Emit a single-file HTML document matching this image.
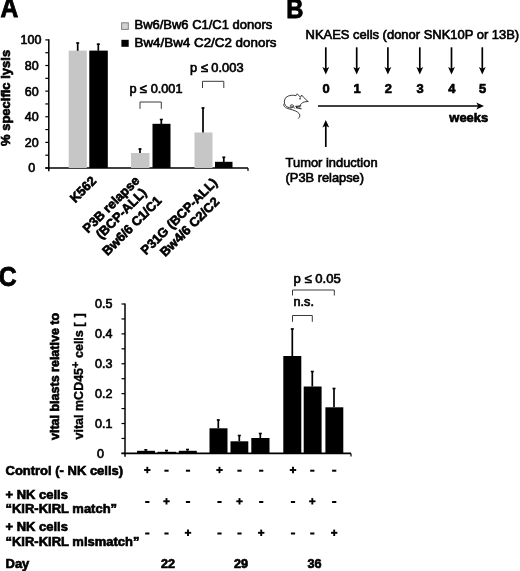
<!DOCTYPE html>
<html><head><meta charset="utf-8"><title>Figure</title>
<style>html,body{margin:0;padding:0;background:#fff}svg{display:block}text{font-family:"Liberation Sans",Arial,sans-serif;fill:#000}</style>
</head><body>
<svg width="520" height="571" viewBox="0 0 520 571">
<rect width="520" height="571" fill="#fff"/>
<text transform="translate(0.6,17.4) scale(0.88,1) rotate(0)" font-size="28" font-weight="bold" stroke="#000" stroke-width="0.9">A</text>
<text transform="translate(286.2,18) scale(0.85,1) rotate(0)" font-size="28" font-weight="bold" stroke="#000" stroke-width="0.9">B</text>
<text transform="translate(-1.2,285.8) scale(0.9,1) rotate(0)" font-size="27.5" font-weight="bold" stroke="#000" stroke-width="0.9">C</text>
<line x1="48.8" y1="39.3" x2="48.8" y2="168.7" stroke="#000" stroke-width="1.5"/>
<line x1="45.3" y1="168" x2="248" y2="168" stroke="#000" stroke-width="1.6"/>
<line x1="48.8" y1="168" x2="48.8" y2="171.3" stroke="#000" stroke-width="1.5"/>
<line x1="248" y1="168" x2="248" y2="171" stroke="#000" stroke-width="1.2"/>
<line x1="45.3" y1="168.0" x2="48.8" y2="168.0" stroke="#000" stroke-width="1.2"/>
<line x1="45.3" y1="155.19" x2="48.8" y2="155.19" stroke="#000" stroke-width="1.2"/>
<line x1="45.3" y1="142.38" x2="48.8" y2="142.38" stroke="#000" stroke-width="1.2"/>
<line x1="45.3" y1="129.57" x2="48.8" y2="129.57" stroke="#000" stroke-width="1.2"/>
<line x1="45.3" y1="116.76" x2="48.8" y2="116.76" stroke="#000" stroke-width="1.2"/>
<line x1="45.3" y1="103.95" x2="48.8" y2="103.95" stroke="#000" stroke-width="1.2"/>
<line x1="45.3" y1="91.14000000000001" x2="48.8" y2="91.14000000000001" stroke="#000" stroke-width="1.2"/>
<line x1="45.3" y1="78.33000000000001" x2="48.8" y2="78.33000000000001" stroke="#000" stroke-width="1.2"/>
<line x1="45.3" y1="65.52000000000001" x2="48.8" y2="65.52000000000001" stroke="#000" stroke-width="1.2"/>
<line x1="45.3" y1="52.71000000000001" x2="48.8" y2="52.71000000000001" stroke="#000" stroke-width="1.2"/>
<line x1="45.3" y1="39.900000000000006" x2="48.8" y2="39.900000000000006" stroke="#000" stroke-width="1.2"/>
<text transform="translate(31.8,172.4) scale(1.0,1) rotate(0)" font-size="12.5" text-anchor="middle" stroke="#000" stroke-width="0.65">0</text>
<text transform="translate(31.8,146.78) scale(1.0,1) rotate(0)" font-size="12.5" text-anchor="middle" stroke="#000" stroke-width="0.65">20</text>
<text transform="translate(31.8,121.16) scale(1.0,1) rotate(0)" font-size="12.5" text-anchor="middle" stroke="#000" stroke-width="0.65">40</text>
<text transform="translate(31.8,95.54) scale(1.0,1) rotate(0)" font-size="12.5" text-anchor="middle" stroke="#000" stroke-width="0.65">60</text>
<text transform="translate(31.8,69.92) scale(1.0,1) rotate(0)" font-size="12.5" text-anchor="middle" stroke="#000" stroke-width="0.65">80</text>
<text transform="translate(31.0,44.3) scale(1.0,1) rotate(0)" font-size="12.5" text-anchor="middle" stroke="#000" stroke-width="0.65">100</text>
<rect x="68.7" y="50.6" width="18.1" height="117.4" fill="#c6c6c6"/>
<line x1="77.7" y1="42.5" x2="77.7" y2="50.8" stroke="#000" stroke-width="1.7"/>
<line x1="76.2" y1="43.0" x2="79.2" y2="43.0" stroke="#000" stroke-width="1.6"/>
<rect x="89.3" y="50.6" width="18.5" height="117.4" fill="#000"/>
<line x1="98.3" y1="43.7" x2="98.3" y2="50.8" stroke="#000" stroke-width="1.7"/>
<line x1="96.8" y1="44.2" x2="99.8" y2="44.2" stroke="#000" stroke-width="1.6"/>
<rect x="131" y="153" width="18.5" height="15" fill="#c6c6c6"/>
<line x1="140" y1="148.5" x2="140" y2="153" stroke="#000" stroke-width="1.7"/>
<line x1="138.5" y1="149.0" x2="141.5" y2="149.0" stroke="#000" stroke-width="1.6"/>
<rect x="152.5" y="123.8" width="18.0" height="44.2" fill="#000"/>
<line x1="161.3" y1="119" x2="161.3" y2="124" stroke="#000" stroke-width="1.7"/>
<line x1="159.8" y1="119.5" x2="162.8" y2="119.5" stroke="#000" stroke-width="1.6"/>
<rect x="194.5" y="132.5" width="18.0" height="35.5" fill="#c6c6c6"/>
<line x1="203" y1="107.5" x2="203" y2="132.5" stroke="#000" stroke-width="1.7"/>
<line x1="201.5" y1="108.0" x2="204.5" y2="108.0" stroke="#000" stroke-width="1.6"/>
<rect x="215" y="161.8" width="17.5" height="6.2" fill="#000"/>
<line x1="223.8" y1="156.8" x2="223.8" y2="162" stroke="#000" stroke-width="1.7"/>
<line x1="222.3" y1="157.3" x2="225.3" y2="157.3" stroke="#000" stroke-width="1.6"/>
<path d="M140 108.8V102H161.3V108.8" fill="none" stroke="#3a3a3a" stroke-width="1"/>
<path d="M202.5 88V81.3H223.8V88" fill="none" stroke="#3a3a3a" stroke-width="1"/>
<text transform="translate(129.5,93) scale(1.0,1) rotate(0)" font-size="12.74" stroke="#000" stroke-width="0.65">p ≤ 0.001</text>
<text transform="translate(190,72) scale(1.0,1) rotate(0)" font-size="12.86" stroke="#000" stroke-width="0.65">p ≤ 0.003</text>
<rect x="121.6" y="22.8" width="6.7" height="6.6" fill="#d2d2d2" stroke="#808080" stroke-width="1"/>
<rect x="121.4" y="39.8" width="7.3" height="7.0" fill="#000"/>
<text transform="translate(134.5,29.4) scale(1.0,1) rotate(0)" font-size="12.98" stroke="#000" stroke-width="0.65">Bw6/Bw6 C1/C1 donors</text>
<text transform="translate(134.5,46.7) scale(1.032,1) rotate(0)" font-size="12.98" stroke="#000" stroke-width="0.65">Bw4/Bw4 C2/C2 donors</text>
<text transform="translate(10.2,146) scale(1.0,1) rotate(-90)" font-size="13.0" font-weight="bold" stroke="#000" stroke-width="0.65">% specific lysis</text>
<text transform="translate(97,181.7) scale(1.0,1) rotate(-45)" font-size="12.9" font-weight="bold" text-anchor="end" stroke="#000" stroke-width="0.65">K562</text>
<text transform="translate(140.3,181.5) scale(1.0,1) rotate(-45)" font-size="12.9" font-weight="bold" text-anchor="end" stroke="#000" stroke-width="0.65">P3B relapse</text>
<text transform="translate(147.3,193.5) scale(1.0,1) rotate(-45)" font-size="12.9" font-weight="bold" text-anchor="end" stroke="#000" stroke-width="0.65">(BCP-ALL)</text>
<text transform="translate(162.3,201.5) scale(1.0,1) rotate(-45)" font-size="12.9" font-weight="bold" text-anchor="end" stroke="#000" stroke-width="0.65">Bw6/6 C1/C1</text>
<text transform="translate(218,183.5) scale(1.0,1) rotate(-45)" font-size="12.9" font-weight="bold" text-anchor="end" stroke="#000" stroke-width="0.65">P31G (BCP-ALL)</text>
<text transform="translate(220,202.5) scale(1.0,1) rotate(-45)" font-size="12.9" font-weight="bold" text-anchor="end" stroke="#000" stroke-width="0.65">Bw4/6 C2/C2</text>
<text transform="translate(305.6,38.9) scale(1.0,1) rotate(0)" font-size="12.96" stroke="#000" stroke-width="0.65">NKAES cells (donor SNK10P or 13B)</text>
<line x1="325.8" y1="47.3" x2="325.8" y2="70" stroke="#000" stroke-width="1.7"/>
<path d="M322.40000000000003 67L325.8 74.6L329.2 67L325.8 68.8Z" fill="#000"/>
<text transform="translate(326.2,93.2) scale(1.0,1) rotate(0)" font-size="12.9" font-weight="bold" text-anchor="middle" stroke="#000" stroke-width="0.65">0</text>
<line x1="356.7" y1="47.3" x2="356.7" y2="70" stroke="#000" stroke-width="1.7"/>
<path d="M353.3 67L356.7 74.6L360.09999999999997 67L356.7 68.8Z" fill="#000"/>
<text transform="translate(357.1,93.2) scale(1.0,1) rotate(0)" font-size="12.9" font-weight="bold" text-anchor="middle" stroke="#000" stroke-width="0.65">1</text>
<line x1="387.9" y1="47.3" x2="387.9" y2="70" stroke="#000" stroke-width="1.7"/>
<path d="M384.5 67L387.9 74.6L391.29999999999995 67L387.9 68.8Z" fill="#000"/>
<text transform="translate(388.3,93.2) scale(1.0,1) rotate(0)" font-size="12.9" font-weight="bold" text-anchor="middle" stroke="#000" stroke-width="0.65">2</text>
<line x1="419.8" y1="47.3" x2="419.8" y2="70" stroke="#000" stroke-width="1.7"/>
<path d="M416.40000000000003 67L419.8 74.6L423.2 67L419.8 68.8Z" fill="#000"/>
<text transform="translate(420.2,93.2) scale(1.0,1) rotate(0)" font-size="12.9" font-weight="bold" text-anchor="middle" stroke="#000" stroke-width="0.65">3</text>
<line x1="451.5" y1="47.3" x2="451.5" y2="70" stroke="#000" stroke-width="1.7"/>
<path d="M448.1 67L451.5 74.6L454.9 67L451.5 68.8Z" fill="#000"/>
<text transform="translate(451.9,93.2) scale(1.0,1) rotate(0)" font-size="12.9" font-weight="bold" text-anchor="middle" stroke="#000" stroke-width="0.65">4</text>
<line x1="482.3" y1="47.3" x2="482.3" y2="70" stroke="#000" stroke-width="1.7"/>
<path d="M478.90000000000003 67L482.3 74.6L485.7 67L482.3 68.8Z" fill="#000"/>
<text transform="translate(482.7,93.2) scale(1.0,1) rotate(0)" font-size="12.9" font-weight="bold" text-anchor="middle" stroke="#000" stroke-width="0.65">5</text>
<line x1="318" y1="106" x2="480" y2="106" stroke="#000" stroke-width="1.7"/>
<path d="M476.3 102.6L484 106L476.3 109.4L478.2 106Z" fill="#000"/>
<text transform="translate(449.3,121.8) scale(1.0,1) rotate(0)" font-size="12.96" font-weight="bold" stroke="#000" stroke-width="0.65">weeks</text>
<line x1="325.8" y1="125" x2="325.8" y2="147" stroke="#000" stroke-width="1.7"/>
<path d="M322.4 127.5L325.8 119.9L329.2 127.5L325.8 125.7Z" fill="#000"/>
<text transform="translate(285.6,167) scale(1.0,1) rotate(0)" font-size="12.9" stroke="#000" stroke-width="0.65">Tumor induction</text>
<text transform="translate(285.6,182) scale(1.0,1) rotate(0)" font-size="12.84" stroke="#000" stroke-width="0.65">(P3B relapse)</text>
<g transform="translate(278,88) scale(0.0769)" fill="none" stroke="#1a1a1a" stroke-width="11" stroke-linecap="round" stroke-linejoin="round">
<path d="M390 175L332 120L308 92L292 122L268 94L250 75L235 100C200 88 145 93 108 118C80 145 74 195 95 225C112 246 140 258 170 262"/>
<path d="M390 175L342 181C312 190 293 208 286 232"/>
<path d="M232 238L296 233M240 248L285 246M242 258L302 270M236 238L244 260" stroke-width="12"/>
<path d="M158 228C170 212 196 214 204 232C208 250 186 262 166 252C150 244 170 232 186 240C198 246 214 250 218 262" stroke-width="10"/>
<path d="M76 208C62 232 92 258 150 274C205 288 250 302 274 332C292 356 284 378 266 394"/>
<circle cx="286" cy="141" r="10" fill="#000" stroke="none"/>
</g>
<line x1="125" y1="303.4" x2="125" y2="454.09999999999997" stroke="#000" stroke-width="1.5"/>
<line x1="121.5" y1="453.4" x2="351" y2="453.4" stroke="#000" stroke-width="1.6"/>
<line x1="125" y1="453.4" x2="125" y2="456.7" stroke="#000" stroke-width="1.5"/>
<line x1="351" y1="453.4" x2="351" y2="456.4" stroke="#000" stroke-width="1.2"/>
<line x1="121.5" y1="453.4" x2="125" y2="453.4" stroke="#000" stroke-width="1.2"/>
<line x1="121.5" y1="438.46" x2="125" y2="438.46" stroke="#000" stroke-width="1.2"/>
<line x1="121.5" y1="423.52" x2="125" y2="423.52" stroke="#000" stroke-width="1.2"/>
<line x1="121.5" y1="408.58" x2="125" y2="408.58" stroke="#000" stroke-width="1.2"/>
<line x1="121.5" y1="393.64" x2="125" y2="393.64" stroke="#000" stroke-width="1.2"/>
<line x1="121.5" y1="378.7" x2="125" y2="378.7" stroke="#000" stroke-width="1.2"/>
<line x1="121.5" y1="363.76" x2="125" y2="363.76" stroke="#000" stroke-width="1.2"/>
<line x1="121.5" y1="348.82" x2="125" y2="348.82" stroke="#000" stroke-width="1.2"/>
<line x1="121.5" y1="333.88" x2="125" y2="333.88" stroke="#000" stroke-width="1.2"/>
<line x1="121.5" y1="318.94" x2="125" y2="318.94" stroke="#000" stroke-width="1.2"/>
<line x1="121.5" y1="304.0" x2="125" y2="304.0" stroke="#000" stroke-width="1.2"/>
<text transform="translate(100.5,457.7) scale(1.0,1) rotate(0)" font-size="12.5" text-anchor="middle" stroke="#000" stroke-width="0.65">0</text>
<text transform="translate(103.7,427.82) scale(1.0,1) rotate(0)" font-size="12.5" text-anchor="middle" stroke="#000" stroke-width="0.65">0.1</text>
<text transform="translate(103.7,397.94) scale(1.0,1) rotate(0)" font-size="12.5" text-anchor="middle" stroke="#000" stroke-width="0.65">0.2</text>
<text transform="translate(103.7,368.06) scale(1.0,1) rotate(0)" font-size="12.5" text-anchor="middle" stroke="#000" stroke-width="0.65">0.3</text>
<text transform="translate(103.7,338.18) scale(1.0,1) rotate(0)" font-size="12.5" text-anchor="middle" stroke="#000" stroke-width="0.65">0.4</text>
<text transform="translate(103.7,308.3) scale(1.0,1) rotate(0)" font-size="12.5" text-anchor="middle" stroke="#000" stroke-width="0.65">0.5</text>
<rect x="137" y="450.8" width="18" height="2.6" fill="#000"/>
<line x1="145.8" y1="449.3" x2="145.8" y2="450.8" stroke="#000" stroke-width="1.7"/>
<line x1="144.3" y1="449.8" x2="147.3" y2="449.8" stroke="#000" stroke-width="1.6"/>
<rect x="157.5" y="451.8" width="18.8" height="1.6" fill="#000"/>
<line x1="166.5" y1="450" x2="166.5" y2="451.8" stroke="#000" stroke-width="1.7"/>
<line x1="165.0" y1="450.5" x2="168.0" y2="450.5" stroke="#000" stroke-width="1.6"/>
<rect x="178.8" y="450.8" width="18.0" height="2.6" fill="#000"/>
<line x1="187.5" y1="449" x2="187.5" y2="450.8" stroke="#000" stroke-width="1.7"/>
<line x1="186.0" y1="449.5" x2="189.0" y2="449.5" stroke="#000" stroke-width="1.6"/>
<rect x="209.5" y="428.3" width="18.0" height="25.1" fill="#000"/>
<line x1="218.3" y1="419.5" x2="218.3" y2="428.3" stroke="#000" stroke-width="1.7"/>
<line x1="216.8" y1="420.0" x2="219.8" y2="420.0" stroke="#000" stroke-width="1.6"/>
<rect x="230.5" y="441.3" width="17.8" height="12.1" fill="#000"/>
<line x1="239.3" y1="435" x2="239.3" y2="441.3" stroke="#000" stroke-width="1.7"/>
<line x1="237.8" y1="435.5" x2="240.8" y2="435.5" stroke="#000" stroke-width="1.6"/>
<rect x="251.3" y="438" width="18.2" height="15.4" fill="#000"/>
<line x1="260.3" y1="433" x2="260.3" y2="438" stroke="#000" stroke-width="1.7"/>
<line x1="258.8" y1="433.5" x2="261.8" y2="433.5" stroke="#000" stroke-width="1.6"/>
<rect x="283.3" y="356" width="18.0" height="97.4" fill="#000"/>
<line x1="292.3" y1="328.5" x2="292.3" y2="356" stroke="#000" stroke-width="1.7"/>
<line x1="290.8" y1="329.0" x2="293.8" y2="329.0" stroke="#000" stroke-width="1.6"/>
<rect x="303.7" y="386.5" width="17.9" height="66.9" fill="#000"/>
<line x1="312.3" y1="371" x2="312.3" y2="386.5" stroke="#000" stroke-width="1.7"/>
<line x1="310.8" y1="371.5" x2="313.8" y2="371.5" stroke="#000" stroke-width="1.6"/>
<rect x="325.4" y="407.3" width="17.9" height="46.1" fill="#000"/>
<line x1="334" y1="388" x2="334" y2="407.3" stroke="#000" stroke-width="1.7"/>
<line x1="332.5" y1="388.5" x2="335.5" y2="388.5" stroke="#000" stroke-width="1.6"/>
<path d="M292.5 321.8V315.5H312.3V321.8" fill="none" stroke="#3a3a3a" stroke-width="1"/>
<path d="M292.5 295.5V290H334.3V295.5" fill="none" stroke="#3a3a3a" stroke-width="1"/>
<text transform="translate(293.5,306) scale(1.0,1) rotate(0)" font-size="12.66" stroke="#000" stroke-width="0.65">n.s.</text>
<text transform="translate(293.5,283) scale(1.0,1) rotate(0)" font-size="13.1" stroke="#000" stroke-width="0.65">p ≤ 0.05</text>
<text transform="translate(58.8,440) scale(1.0,1) rotate(-90)" font-size="12.5" font-weight="bold" stroke="#000" stroke-width="0.65">vital blasts relative to</text>
<text transform="translate(83,439.5) rotate(-90)" font-size="12.5" font-weight="bold" stroke="#000" stroke-width="0.4">vital mCD45<tspan dy="-4.5" font-size="11">+</tspan><tspan dy="4.5" font-size="12.5"> cells [&#160;<tspan dx="1.6">]</tspan></tspan></text>
<text transform="translate(5.5,474.5) scale(1.0,1) rotate(0)" font-size="12.99" font-weight="bold" stroke="#000" stroke-width="0.65">Control (- NK cells)</text>
<text transform="translate(5.5,499.3) scale(1.0,1) rotate(0)" font-size="12.99" font-weight="bold" stroke="#000" stroke-width="0.65">+ NK cells</text>
<text transform="translate(5.5,513) scale(1.0,1) rotate(0)" font-size="12.99" font-weight="bold" stroke="#000" stroke-width="0.65">“KIR-KIRL match”</text>
<text transform="translate(5.5,530.5) scale(1.0,1) rotate(0)" font-size="12.99" font-weight="bold" stroke="#000" stroke-width="0.65">+ NK cells</text>
<text transform="translate(5.5,545.5) scale(1.0,1) rotate(0)" font-size="12.99" font-weight="bold" stroke="#000" stroke-width="0.65">“KIR-KIRL mismatch”</text>
<text transform="translate(5.5,567.5) scale(1.0,1) rotate(0)" font-size="12.99" font-weight="bold" stroke="#000" stroke-width="0.65">Day</text>
<text transform="translate(168,568) scale(1.0,1) rotate(0)" font-size="12.66" font-weight="bold" text-anchor="middle" stroke="#000" stroke-width="0.65">22</text>
<text transform="translate(241,568) scale(1.0,1) rotate(0)" font-size="12.66" font-weight="bold" text-anchor="middle" stroke="#000" stroke-width="0.65">29</text>
<text transform="translate(314.5,568) scale(1.0,1) rotate(0)" font-size="12.66" font-weight="bold" text-anchor="middle" stroke="#000" stroke-width="0.65">36</text>
<line x1="144.10000000000002" y1="470" x2="150.5" y2="470" stroke="#000" stroke-width="1.9"/>
<line x1="147.3" y1="466.8" x2="147.3" y2="473.2" stroke="#000" stroke-width="1.9"/>
<line x1="164.4" y1="470.7" x2="168.6" y2="470.7" stroke="#000" stroke-width="2.0"/>
<line x1="185.9" y1="470.7" x2="190.1" y2="470.7" stroke="#000" stroke-width="2.0"/>
<line x1="216.3" y1="470" x2="222.7" y2="470" stroke="#000" stroke-width="1.9"/>
<line x1="219.5" y1="466.8" x2="219.5" y2="473.2" stroke="#000" stroke-width="1.9"/>
<line x1="237.4" y1="470.7" x2="241.6" y2="470.7" stroke="#000" stroke-width="2.0"/>
<line x1="259.09999999999997" y1="470.7" x2="263.3" y2="470.7" stroke="#000" stroke-width="2.0"/>
<line x1="289.8" y1="470" x2="296.2" y2="470" stroke="#000" stroke-width="1.9"/>
<line x1="293" y1="466.8" x2="293" y2="473.2" stroke="#000" stroke-width="1.9"/>
<line x1="310.2" y1="470.7" x2="314.40000000000003" y2="470.7" stroke="#000" stroke-width="2.0"/>
<line x1="332.09999999999997" y1="470.7" x2="336.3" y2="470.7" stroke="#000" stroke-width="2.0"/>
<line x1="145.20000000000002" y1="502.0" x2="149.4" y2="502.0" stroke="#000" stroke-width="2.0"/>
<line x1="163.3" y1="501.3" x2="169.7" y2="501.3" stroke="#000" stroke-width="1.9"/>
<line x1="166.5" y1="498.1" x2="166.5" y2="504.5" stroke="#000" stroke-width="1.9"/>
<line x1="185.9" y1="502.0" x2="190.1" y2="502.0" stroke="#000" stroke-width="2.0"/>
<line x1="217.4" y1="502.0" x2="221.6" y2="502.0" stroke="#000" stroke-width="2.0"/>
<line x1="236.3" y1="501.3" x2="242.7" y2="501.3" stroke="#000" stroke-width="1.9"/>
<line x1="239.5" y1="498.1" x2="239.5" y2="504.5" stroke="#000" stroke-width="1.9"/>
<line x1="259.09999999999997" y1="502.0" x2="263.3" y2="502.0" stroke="#000" stroke-width="2.0"/>
<line x1="290.9" y1="502.0" x2="295.1" y2="502.0" stroke="#000" stroke-width="2.0"/>
<line x1="309.1" y1="501.3" x2="315.5" y2="501.3" stroke="#000" stroke-width="1.9"/>
<line x1="312.3" y1="498.1" x2="312.3" y2="504.5" stroke="#000" stroke-width="1.9"/>
<line x1="332.09999999999997" y1="502.0" x2="336.3" y2="502.0" stroke="#000" stroke-width="2.0"/>
<line x1="145.20000000000002" y1="533.5" x2="149.4" y2="533.5" stroke="#000" stroke-width="2.0"/>
<line x1="164.4" y1="533.5" x2="168.6" y2="533.5" stroke="#000" stroke-width="2.0"/>
<line x1="184.8" y1="532.8" x2="191.2" y2="532.8" stroke="#000" stroke-width="1.9"/>
<line x1="188" y1="529.5999999999999" x2="188" y2="536.0" stroke="#000" stroke-width="1.9"/>
<line x1="217.4" y1="533.5" x2="221.6" y2="533.5" stroke="#000" stroke-width="2.0"/>
<line x1="237.4" y1="533.5" x2="241.6" y2="533.5" stroke="#000" stroke-width="2.0"/>
<line x1="258.0" y1="532.8" x2="264.4" y2="532.8" stroke="#000" stroke-width="1.9"/>
<line x1="261.2" y1="529.5999999999999" x2="261.2" y2="536.0" stroke="#000" stroke-width="1.9"/>
<line x1="290.9" y1="533.5" x2="295.1" y2="533.5" stroke="#000" stroke-width="2.0"/>
<line x1="310.2" y1="533.5" x2="314.40000000000003" y2="533.5" stroke="#000" stroke-width="2.0"/>
<line x1="331.0" y1="532.8" x2="337.4" y2="532.8" stroke="#000" stroke-width="1.9"/>
<line x1="334.2" y1="529.5999999999999" x2="334.2" y2="536.0" stroke="#000" stroke-width="1.9"/>
</svg>
</body></html>
